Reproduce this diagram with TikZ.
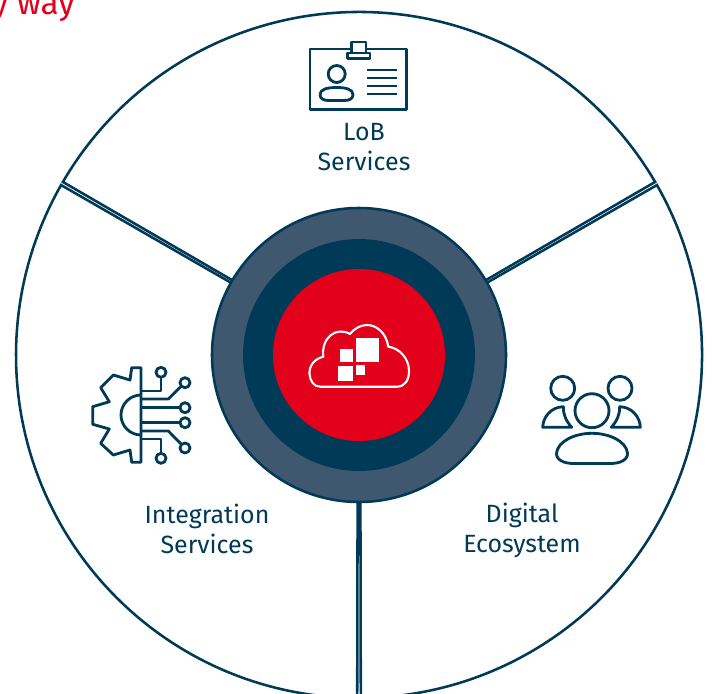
\documentclass[tikz,border=0pt]{standalone}
\usepackage{fontspec}
\setmainfont{Fira Sans}
\usepackage{xcolor}
\usepackage{tikz}
\definecolor{navy}{HTML}{003A57}
\definecolor{slate}{HTML}{40586F}
\definecolor{signal}{HTML}{E2001A}
\tikzset{
    rim/.style={draw=navy, line width=1.45pt},
    icon/.style={draw=navy, line width=1.6pt, line join=round},
    label/.style={text=navy, font=\fontsize{14.2pt}{17pt}\selectfont, align=center}
}

\begin{document}
\begin{tikzpicture}[x=0.02cm, y=-0.02cm]
    \clip (0, 0) rectangle (712, 693);
    \fill[white] (0, 0) rectangle (712, 693);

    % Clipped heading
    \node[anchor=base east, inner sep=0, text=signal, font=\fontsize{19pt}{21pt}\selectfont] (heading) at (75, 14) {y way};

    % Three sectors
    \begin{scope}[shift={(359, 355)}]
        \foreach \from/\to in {210/330, 330/450, 90/210} {
            \draw[rim] (\from+0.55:147) -- (\from+0.3:343)
                arc[start angle=\from+0.3, end angle=\to-0.3, radius=343]
                -- (\to-0.55:147);
        }
        % Hub
        \fill[slate] (0, 0) circle (147);
        \draw[rim] (0, 0) circle (147);
        \fill[navy] (0, 0) circle (116);
        \fill[signal] (0, 0) circle (86);
    \end{scope}

    % Cloud
    \draw[white, line width=1.2pt, line join=round] (320, 386.7) -- (396.7, 386.7)
        .. controls (405, 386.7) and (409, 380) .. (409, 371)
        .. controls (409, 358) and (399, 348) .. (388.3, 346.7)
        .. controls (386, 332) and (376, 325) .. (367, 325)
        .. controls (360, 325) and (354, 329) .. (350, 334)
        .. controls (336, 326) and (321, 338) .. (323.3, 356.7)
        .. controls (314, 359) and (309, 366) .. (309.5, 374)
        .. controls (310, 381) and (314, 386.7) .. (320, 386.7);
    \fill[white] (356, 338.3) rectangle (379, 361.7);
    \fill[white] (340, 349) rectangle (353, 361.7);
    \fill[white] (338, 366) rectangle (353, 381);
    \fill[white] (356, 365) rectangle (365, 375);

    % Badge
    \draw[icon] (310, 49) rectangle (406.7, 109.3);
    \draw[icon, fill=white] (351.7, 42) rectangle (366, 55);
    \draw[icon, fill=white] (347.5, 53) rectangle (370, 58.3);
    \draw[icon] (336.7, 74) circle (8.5);
    \draw[icon] (320, 94.5) .. controls (320, 89) and (328, 87.5) .. (336.7, 87.5)
        .. controls (345, 87.5) and (353, 89) .. (353, 94.5)
        .. controls (353, 99) and (349, 100.5) .. (344, 100.5) -- (329, 100.5)
        .. controls (324, 100.5) and (320, 99) .. (320, 94.5);
    \foreach \y in {70, 78, 86, 94} {
        \draw[icon] (366.7, \y) -- (396.7, \y);
    }

    % Gear
    \draw[icon] (141, 367.7) -- (131.7, 367.7) -- (130, 380) -- (113.3, 375) -- (100.7, 387.7)
        -- (109.3, 401.7) -- (92.7, 406.7) -- (92.7, 424.3) -- (109.3, 429) -- (100.7, 443.3)
        -- (113.3, 455) -- (130, 450) -- (131.7, 462.3) -- (141, 462.3) -- cycle;
    \draw[icon] (141, 395) .. controls (130, 395) and (121, 404) .. (121, 415)
        .. controls (121, 426) and (130, 435) .. (141, 435);
    \draw[icon] (141, 391) -- (161, 391) -- (161, 377.5);
    \draw[icon] (141, 399) -- (168.3, 399) -- (181.5, 386);
    \draw[icon] (141, 407.7) -- (180, 407.7);
    \draw[icon] (141, 422.7) -- (180, 422.7);
    \draw[icon] (141, 431) -- (168.3, 431) -- (181.5, 444.5);
    \draw[icon] (141, 439) -- (161, 439) -- (161, 453);
    \foreach \x/\y in {161/372.3, 185/382.7, 185/407.7, 185/422.7, 185/448, 161/458.3} {
        \draw[icon] (\x, \y) circle (5);
    }

    % People
    \draw[icon] (592, 410.7) circle (17);
    \draw[icon] (562.7, 388.3) circle (12);
    \draw[icon] (620, 388.3) circle (12);
    \draw[icon] (563.3, 406.7) .. controls (551, 407) and (543, 417) .. (542.7, 427.3)
        -- (571.7, 427.3) .. controls (566, 421) and (563, 414) .. (563.3, 406.7) -- cycle;
    \draw[icon] (619.7, 406.7) .. controls (632, 407) and (640, 417) .. (640.3, 427.3)
        -- (611.3, 427.3) .. controls (617, 421) and (620, 414) .. (619.7, 406.7) -- cycle;
    \draw[icon] (556.5, 453) .. controls (558, 441) and (575, 433.3) .. (592, 433.3)
        .. controls (609, 433.3) and (626, 441) .. (627.5, 453)
        .. controls (628, 460) and (620, 463.5) .. (610, 463.5) -- (574, 463.5)
        .. controls (564, 463.5) and (556, 460) .. (556.5, 453);

    % Labels
    \node[label] (lob) at (364, 147) {LoB\\Services};
    \node[label] (integration) at (207, 528.5) {Integration\\Services};
    \node[label] (digital) at (522, 530) {Digital\\Ecosystem};
\end{tikzpicture}
\end{document}
